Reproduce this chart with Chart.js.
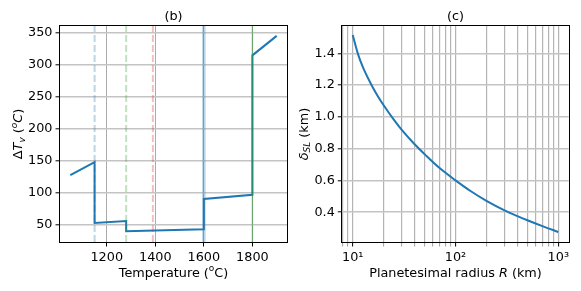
<!DOCTYPE html>
<html><head><meta charset="utf-8">
<script src="https://cdn.jsdelivr.net/npm/chart.js@4.4.0/dist/chart.umd.min.js"></script>
<style>
html,body{margin:0;padding:0;background:#fff;width:581px;height:291px;overflow:hidden}
canvas{position:absolute;top:0}
#c1{left:0;width:290px;height:291px}
#c2{left:290px;width:291px;height:291px}
</style></head><body>
<canvas id="c1" width="290" height="291"></canvas>
<canvas id="c2" width="291" height="291"></canvas>
<script>
// ---------- Panel (b) data ----------
const tempC = [1050, 1150, 1150, 1280, 1280, 1600, 1600, 1800, 1800, 1900];
const deltaTv = [127, 147.5, 52.5, 55.5, 39.5, 42.5, 90, 96.5, 314.5, 345];
const refLineTemps = [1150, 1280, 1390, 1600, 1800];
const tempTicks = [1200, 1400, 1600, 1800];
const dTvTicks = [50, 100, 150, 200, 250, 300, 350];
const limitsB = {xmin: 1007.5, xmax: 1942.5, ymin: 22.6, ymax: 360.4};

// ---------- Panel (c) data ----------
const radiusKm = [10, 11.2, 12.5, 15, 17.5, 20, 25, 30, 40, 50, 70, 100, 140, 200, 300, 400, 500, 700, 1000];
const deltaSL = [1.515, 1.40, 1.316, 1.209, 1.132, 1.073, 0.984, 0.918, 0.828, 0.766, 0.678, 0.601, 0.534, 0.472, 0.412, 0.376, 0.350, 0.313, 0.276];
const radiusGridTicks = [8, 9, 10, 20, 30, 40, 50, 60, 70, 80, 90, 100, 200, 300, 400, 500, 600, 700, 800, 900, 1000];
const radiusMajorTicks = [10, 100, 1000];
const radiusTickLabels = ['10\u00B9', '10\u00B2', '10\u00B3'];
const deltaTicks = [0.4, 0.6, 0.8, 1.0, 1.2, 1.4];
const limitsC = {xmin: 7.92, xmax: 1262, ymin: 0.213, ymax: 1.572};

const FS = 12.8;
const FAM = '"DejaVu Sans", sans-serif';
Chart.defaults.font.family = FAM;
Chart.defaults.font.size = FS;
Chart.defaults.color = '#000';

function drawRich(ctx, segs, x, y, size, rotated) {
  const parts = segs.map(s => {
    const sz = (s.sub || s.sup) ? size * 0.7 : size;
    const font = (s.it ? 'italic ' : '') + sz + 'px ' + FAM;
    ctx.font = font;
    const w = ctx.measureText(s.t).width;
    return {t: s.t, font, w, dy: s.sub ? size * 0.22 : (s.sup ? -size * 0.4 : 0)};
  });
  const total = parts.reduce((a, p) => a + p.w, 0);
  ctx.save();
  ctx.translate(x, y);
  if (rotated) ctx.rotate(-Math.PI / 2);
  ctx.fillStyle = '#000';
  ctx.textBaseline = 'alphabetic';
  ctx.textAlign = 'left';
  let cx = -total / 2;
  for (const p of parts) {
    ctx.font = p.font;
    ctx.fillText(p.t, cx, p.dy);
    cx += p.w;
  }
  ctx.restore();
}

function makeDecor(cfg) {
  return {
    id: 'decor',
    afterDraw(chart) {
      const {ctx, chartArea: a} = chart;
      ctx.save();
      ctx.strokeStyle = '#000';
      ctx.lineWidth = 1;
      ctx.strokeRect(Math.round(a.left) - 0.5, Math.round(a.top) - 0.5,
                     Math.round(a.right) - Math.round(a.left) + 1, Math.round(a.bottom) - Math.round(a.top) + 1);
      ctx.restore();
      const cxm = (a.left + a.right) / 2, cym = (a.top + a.bottom) / 2;
      drawRich(ctx, [{t: cfg.title}], cxm, 20, FS, false);
      drawRich(ctx, cfg.xlabel, cxm, 276.5, FS, false);
      drawRich(ctx, cfg.ylabel, cfg.yBaseX, cym, FS, true);
    }
  };
}

const tab = {blue: '31,119,180', green: '44,160,44', red: '214,39,40'};
const refStyles = [
  {c: 'rgba(' + tab.blue + ',0.3)', w: 2, dash: [7, 3]},
  {c: 'rgba(' + tab.green + ',0.3)', w: 2, dash: [7, 3]},
  {c: 'rgba(' + tab.red + ',0.3)', w: 2, dash: [7, 3]},
  {c: 'rgba(' + tab.blue + ',0.3)', w: 3.5, dash: []},
  {c: 'rgba(' + tab.green + ',0.5)', w: 1.4, dash: []}
];

const dsB = [{
  data: tempC.map((t, i) => ({x: t, y: deltaTv[i]})),
  borderColor: '#1f77b4', borderWidth: 2, pointRadius: 0, fill: false, tension: 0, order: 5
}];
refLineTemps.forEach((t, i) => {
  dsB.push({
    data: [{x: t, y: limitsB.ymin}, {x: t, y: limitsB.ymax}],
    borderColor: refStyles[i].c, borderWidth: refStyles[i].w, borderDash: refStyles[i].dash,
    pointRadius: 0, fill: false, order: 1
  });
});

const gridX = {color: '#aaaaaa', lineWidth: 1, drawTicks: true, tickLength: 4.5, tickColor: '#000', tickWidth: 1};
const gridY = {color: '#c4c4c4', lineWidth: 1.6, drawTicks: true, tickLength: 4.5, tickColor: '#000', tickWidth: 1};

new Chart(document.getElementById('c1'), {
  type: 'line',
  data: {datasets: dsB},
  options: {
    responsive: false, animation: false, events: [],
    layout: {padding: {left: 0, right: 3, top: 26, bottom: 0}},
    plugins: {legend: {display: false}, tooltip: {enabled: false}, title: {display: false}},
    scales: {
      x: {
        type: 'linear', min: limitsB.xmin, max: limitsB.xmax,
        afterBuildTicks: s => { s.ticks = tempTicks.map(v => ({value: v})); },
        afterFit: s => { s.height = 49; },
        ticks: {autoSkip: false, maxRotation: 0, padding: 3, callback: v => String(v)},
        grid: gridX, border: {display: false}
      },
      y: {
        type: 'linear', min: limitsB.ymin, max: limitsB.ymax,
        afterBuildTicks: s => { s.ticks = dTvTicks.map(v => ({value: v})); },
        afterFit: s => { s.width = 60; },
        ticks: {padding: 3, callback: v => String(v)},
        grid: gridY, border: {display: false}
      }
    }
  },
  plugins: [makeDecor({
    title: '(b)',
    xlabel: [{t: 'Temperature ('}, {t: 'o', sup: true}, {t: 'C)'}],
    ylabel: [{t: '\u0394'}, {t: 'T', it: true}, {t: 'v', it: true, sub: true}, {t: ' ('}, {t: 'o', it: true, sup: true}, {t: 'C', it: true}, {t: ')'}],
    yBaseX: 22
  })]
});

new Chart(document.getElementById('c2'), {
  type: 'line',
  data: {datasets: [{
    data: radiusKm.map((r, i) => ({x: r, y: deltaSL[i]})),
    borderColor: '#1f77b4', borderWidth: 2, pointRadius: 0, fill: false,
    cubicInterpolationMode: 'monotone'
  }]},
  options: {
    responsive: false, animation: false, events: [],
    layout: {padding: {left: 0, right: 12.3, top: 26, bottom: 0}},
    plugins: {legend: {display: false}, tooltip: {enabled: false}, title: {display: false}},
    scales: {
      x: {
        type: 'logarithmic', min: limitsC.xmin, max: limitsC.xmax,
        afterBuildTicks: s => { s.ticks = radiusGridTicks.map(v => ({value: v})); },
        afterFit: s => { s.height = 49; },
        ticks: {autoSkip: false, maxRotation: 0, padding: 3,
          callback: v => { const k = radiusMajorTicks.indexOf(v); return k >= 0 ? radiusTickLabels[k] : ''; }},
        grid: {color: '#b4b4b4', lineWidth: 1.2, drawTicks: true, tickLength: 4.5,
          tickColor: ctx => (ctx.tick && radiusMajorTicks.includes(ctx.tick.value)) ? '#000' : 'rgba(0,0,0,0.55)',
          tickWidth: ctx => (ctx.tick && radiusMajorTicks.includes(ctx.tick.value)) ? 1 : 0.7},
        border: {display: false}
      },
      y: {
        type: 'linear', min: limitsC.ymin, max: limitsC.ymax,
        afterBuildTicks: s => { s.ticks = deltaTicks.map(v => ({value: v})); },
        afterFit: s => { s.width = 52.3; },
        ticks: {padding: 3, callback: v => v.toFixed(1)},
        grid: gridY, border: {display: false}
      }
    }
  },
  plugins: [makeDecor({
    title: '(c)',
    xlabel: [{t: 'Planetesimal radius '}, {t: 'R', it: true}, {t: ' (km)'}],
    ylabel: [{t: '\u03B4', it: true}, {t: 'SL', it: true, sub: true}, {t: ' (km)'}],
    yBaseX: 17.5
  })]
});
</script></body></html>
